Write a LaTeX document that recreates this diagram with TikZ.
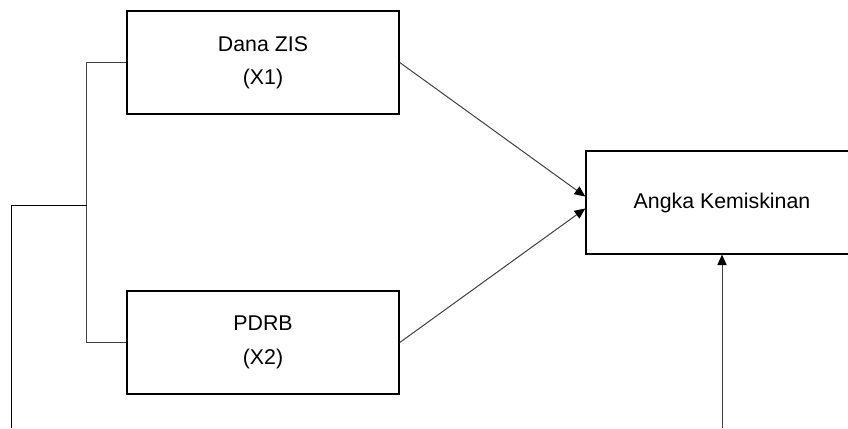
\documentclass[tikz,border=0pt]{standalone}
\usepackage{fontspec}
\setmainfont{Liberation Sans}
\usetikzlibrary{positioning,arrows.meta}

\tikzset{
  kotak/.style={draw,rectangle,line width=1.1pt,minimum width=204pt,minimum height=77pt,align=center,font=\fontsize{16}{25}\selectfont},
  garis/.style={line width=0.75pt,draw=black!75},
  panah/.style={garis,-{Triangle[length=8pt,width=7pt,color=black]}}
}

\begin{document}
\begin{tikzpicture}[x=0.75pt,y=-0.75pt]
\useasboundingbox (0,0) rectangle (848,428);
\clip (0,0) rectangle (848,428);
\node[kotak] (n1) at (263,62.5) {Dana ZIS\\(X1)};
\node[kotak] (n2) at (263,342.5) {PDRB\\(X2)};
\node[kotak] (n3) at (722,202.5) {Angka Kemiskinan};
% garis kurung kiri
\coordinate (j) at (87,205);
\coordinate (k) at (11,428);
\draw[garis] (n1.west) -- ++(-40,0) |- (n2.west);
\draw[garis,draw=black] (j) -| (k);
% panah ke angka kemiskinan
\draw[panah] (n1.east) -- ([yshift=4.5pt]n3.west);
\draw[panah] (n2.east) -- ([yshift=-4.5pt]n3.west);
\coordinate (m) at (722,428);
\draw[panah] (m) -- (n3.south);
\end{tikzpicture}
\end{document}
